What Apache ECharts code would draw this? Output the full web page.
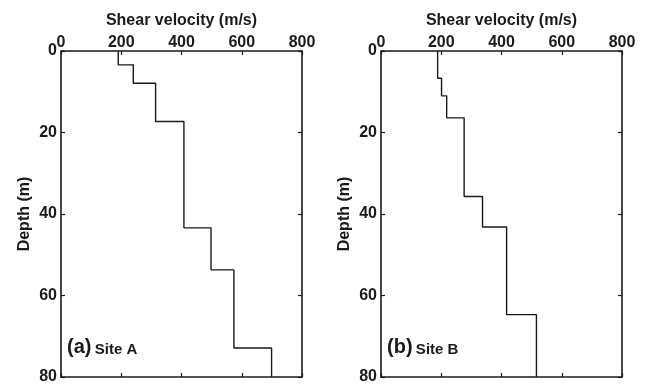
<!DOCTYPE html>
<html><head><meta charset="utf-8">
<script src="https://cdn.jsdelivr.net/npm/echarts@6/dist/echarts.min.js"></script>
<style>html,body{margin:0;padding:0;background:#fff}#c{width:648px;height:386px}</style>
</head><body><div id="c"></div>
<script>
// Site A: layer velocities (m/s) and layer boundary depths (m)
const siteAVel = [190, 240, 314, 408, 498, 574, 699];
const siteADepth = [0, 3.4, 7.9, 17.3, 43.4, 53.7, 72.9, 80];
// Site B
const siteBVel = [188, 201, 218, 276, 337, 417, 516];
const siteBDepth = [0, 6.7, 11.0, 16.4, 35.7, 43.2, 64.7, 80];
const xTicks = [0, 200, 400, 600, 800];
const yTicks = [0, 20, 40, 60, 80];
const panelLabels = ['(a)', '(b)'];
const siteNames = ['Site A', 'Site B'];

function profile(vel, dep) {
  const pts = [];
  for (let i = 0; i < vel.length; i++) {
    pts.push([vel[i], dep[i]]);
    pts.push([vel[i], dep[i + 1]]);
  }
  return pts;
}

const FONT = '"Liberation Sans", Arial, sans-serif';
const C = '#1a1a1a';
const grids = [
  {left: 61, top: 51, width: 241, height: 326},
  {left: 381, top: 51, width: 241, height: 326}
];
const xAxes = [], yAxes = [], series = [], graphics = [];
[0, 1].forEach(g => {
  const axLine = {show: true, onZero: false, lineStyle: {color: C, width: 1.6}};
  const tick = {show: true, inside: true, length: 4, lineStyle: {color: C, width: 1.2}};
  xAxes.push({
    gridIndex: g, type: 'value', position: 'top', min: 0, max: 800, interval: 200,
    name: 'Shear velocity (m/s)', nameLocation: 'middle', nameGap: 22,
    nameTextStyle: {fontFamily: FONT, fontWeight: 'bold', fontSize: 16, color: C},
    axisLine: axLine, axisTick: tick,
    axisLabel: {fontFamily: FONT, fontWeight: 'bold', fontSize: 16, color: C, margin: 0,
      formatter: v => xTicks.includes(v) ? String(v) : ''},
    splitLine: {show: false}
  });
  xAxes.push({
    gridIndex: g, type: 'value', position: 'bottom', min: 0, max: 800, interval: 200,
    axisLine: axLine, axisTick: tick,
    axisLabel: {show: false}, splitLine: {show: false}
  });
  yAxes.push({
    gridIndex: g, type: 'value', position: 'left', inverse: true, min: 0, max: 80, interval: 20,
    name: 'Depth (m)', nameLocation: 'middle', nameGap: 28, nameRotate: 90,
    nameTextStyle: {fontFamily: FONT, fontWeight: 'bold', fontSize: 16, color: C},
    axisLine: axLine, axisTick: tick,
    axisLabel: {fontFamily: FONT, fontWeight: 'bold', fontSize: 16, color: C, margin: 4,
      formatter: v => yTicks.includes(v) ? String(v) : ''},
    splitLine: {show: false}
  });
  yAxes.push({
    gridIndex: g, type: 'value', position: 'right', inverse: true, min: 0, max: 80, interval: 20,
    axisLine: axLine, axisTick: tick,
    axisLabel: {show: false}, splitLine: {show: false}
  });
  const vel = g === 0 ? siteAVel : siteBVel;
  const dep = g === 0 ? siteADepth : siteBDepth;
  series.push({
    type: 'line', xAxisIndex: g * 2, yAxisIndex: g * 2, data: profile(vel, dep),
    showSymbol: false, symbol: 'none', lineStyle: {color: C, width: 1.4}, animation: false, z: 5
  });
  graphics.push({
    type: 'text', left: grids[g].left + 6, top: 337,
    style: {
      text: '{a|' + panelLabels[g] + '} {b|' + siteNames[g] + '}',
      rich: {
        a: {fontFamily: FONT, fontWeight: 'bold', fontSize: 20, fill: C, verticalAlign: 'bottom'},
        b: {fontFamily: FONT, fontWeight: 'bold', fontSize: 15, fill: C, verticalAlign: 'bottom'}
      }
    }
  });
});

const chart = echarts.init(document.getElementById('c'), null, {renderer: 'canvas'});
chart.setOption({
  animation: false,
  backgroundColor: '#fff',
  grid: grids,
  xAxis: xAxes,
  yAxis: yAxes,
  series: series,
  graphic: graphics
});
</script></body></html>
